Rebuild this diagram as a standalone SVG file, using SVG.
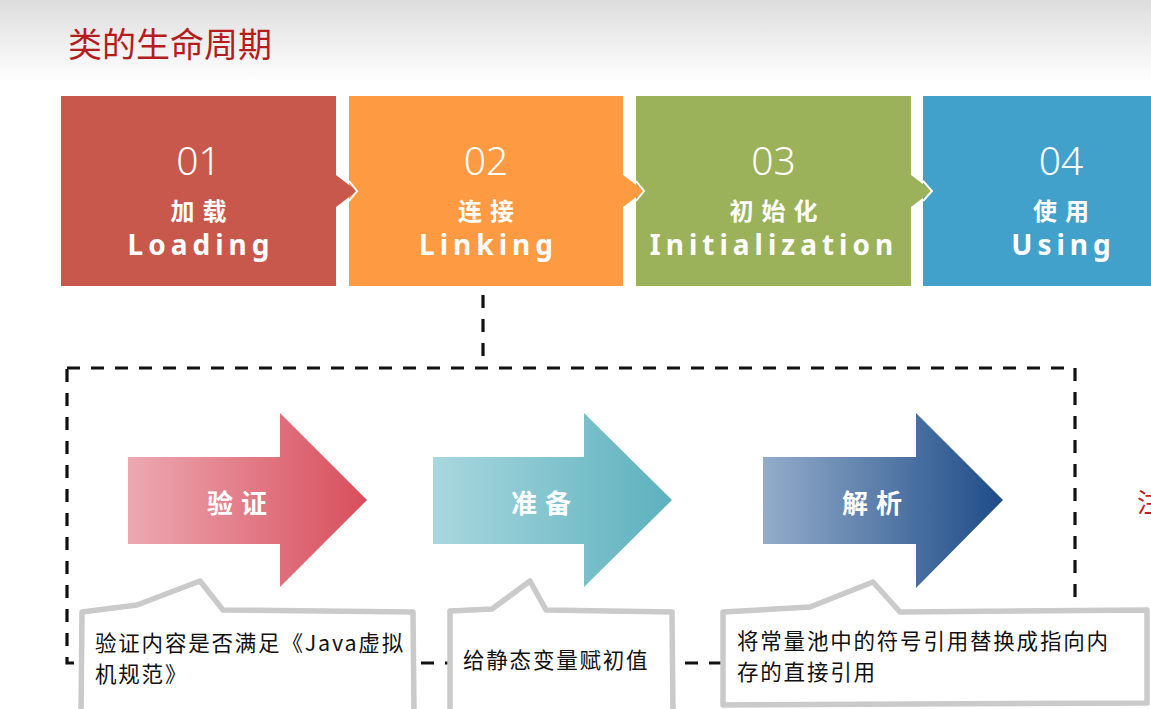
<svg xmlns="http://www.w3.org/2000/svg" width="1151" height="709" viewBox="0 0 1151 709">
  <style>
    .num { font-family: "Noto Sans", "Open Sans", "Noto Sans CJK SC", sans-serif; font-weight: 300; font-size: 39px; fill: #ffffff; text-anchor: middle; }
    .cn { font-family: "Noto Sans CJK SC", sans-serif; font-weight: 700; font-size: 24px; fill: #ffffff; text-anchor: middle; letter-spacing: 8px; }
    .en { font-family: "Noto Sans", "Open Sans", sans-serif; font-weight: 700; font-size: 28px; fill: #ffffff; text-anchor: middle; letter-spacing: 5px; }
    .alabel { font-family: "Noto Sans CJK SC", sans-serif; font-weight: 700; font-size: 26px; fill: #ffffff; text-anchor: middle; letter-spacing: 8px; }
    .note { font-family: "Noto Sans CJK SC", sans-serif; font-size: 21.5px; letter-spacing: 1.8px; fill: #111111; }
    .callout { fill: #ffffff; stroke: #CACACA; stroke-width: 5.5; stroke-linejoin: round; }
    .dash { fill: none; stroke: #111111; stroke-width: 3.2; stroke-dasharray: 13 11; }
    .notchline { fill: none; stroke: #ffffff; stroke-width: 2; }
  </style>
  <defs>
    <linearGradient id="hdr" x1="0" y1="0" x2="0" y2="1">
      <stop offset="0" stop-color="#DDDDDD"/>
      <stop offset="1" stop-color="#FFFFFF"/>
    </linearGradient>
    <linearGradient id="g1" x1="0" y1="0" x2="1" y2="0">
      <stop offset="0" stop-color="#ECA9B2"/>
      <stop offset="1" stop-color="#D84E5C"/>
    </linearGradient>
    <linearGradient id="g2" x1="0" y1="0" x2="1" y2="0">
      <stop offset="0" stop-color="#A9D7DF"/>
      <stop offset="1" stop-color="#5CB1BD"/>
    </linearGradient>
    <linearGradient id="g3" x1="0" y1="0" x2="1" y2="0">
      <stop offset="0" stop-color="#93ACCA"/>
      <stop offset="1" stop-color="#1E4C88"/>
    </linearGradient>
  </defs>

  <rect x="0" y="0" width="1151" height="709" fill="#ffffff"/>
  <rect x="0" y="0" width="1151" height="82" fill="url(#hdr)"/>

  <text x="68" y="57" font-family="Noto Sans CJK SC, sans-serif" font-size="34" fill="#B51C1C">类的生命周期</text>

  <g id="stage-loading">
    <rect x="61" y="96" width="275" height="190" fill="#C8584B"/>
    <text class="num" x="198.5" y="175">01</text>
    <text class="cn" x="202.5" y="220">加载</text>
    <text class="en" x="201" y="255">Loading</text>
  </g>
  <g id="stage-linking">
    <rect x="349" y="96" width="274" height="190" fill="#FE9A42"/>
    <text class="num" x="486" y="175">02</text>
    <text class="cn" x="490" y="220">连接</text>
    <text class="en" x="488.5" y="255">Linking</text>
  </g>
  <g id="stage-init">
    <rect x="636" y="96" width="275" height="190" fill="#9BB25A"/>
    <text class="num" x="773.5" y="175">03</text>
    <text class="cn" x="777.5" y="220">初始化</text>
    <text class="en" x="774" y="255">Initialization</text>
  </g>
  <g id="stage-using">
    <rect x="923" y="96" width="275" height="190" fill="#42A1CB"/>
    <text class="num" x="1061" y="175">04</text>
    <text class="cn" x="1065" y="220">使用</text>
    <text class="en" x="1063.5" y="255">Using</text>
  </g>
  <g id="notches">
    <polygon points="336,175 357,191 336,207" fill="#C8584B"/>
    <polyline class="notchline" points="349,181 357,191 349,201"/>
    <polygon points="623,175 644,191 623,207" fill="#FE9A42"/>
    <polyline class="notchline" points="636,181 644,191 636,201"/>
    <polygon points="911,175 932,191 911,207" fill="#9BB25A"/>
    <polyline class="notchline" points="923,181 932,191 923,201"/>
  </g>

  <g id="connectors">
    <line class="dash" x1="483" y1="295" x2="483" y2="368"/>
    <rect class="dash" x="67" y="368" width="1008" height="295"/>
  </g>

  <g id="arrow-verify">
    <path d="M128,457 L280,457 L280,413 L367,500 L280,587 L280,544 L128,544 Z" fill="url(#g1)"/>
    <text class="alabel" x="241" y="513">验证</text>
  </g>
  <g id="arrow-prepare">
    <path d="M433,457 L584,457 L584,413 L672,500 L584,587 L584,544 L433,544 Z" fill="url(#g2)"/>
    <text class="alabel" x="545" y="513">准备</text>
  </g>
  <g id="arrow-resolve">
    <path d="M763,457 L916,457 L916,413 L1003,500 L916,588 L916,544 L763,544 Z" fill="url(#g3)"/>
    <text class="alabel" x="876" y="513">解析</text>
  </g>

  <g id="note-verify">
    <path class="callout" d="M82,612 L137,605 L200,581 L223,610 L413,612 L414,714 L81,714 Z"/>
    <text class="note" x="95" y="651">验证内容是否满足《Java虚拟</text>
    <text class="note" x="95" y="682">机规范》</text>
  </g>
  <g id="note-prepare">
    <path class="callout" d="M450,611 L492,609 L530,581 L546,610 L672,612 L673,714 L450,714 Z"/>
    <text class="note" x="463" y="668">给静态变量赋初值</text>
  </g>
  <g id="note-resolve">
    <path class="callout" d="M723,612 L810,607 L873,582 L900,612 L1147,610 L1147,703 L723,705 Z"/>
    <text class="note" x="737" y="649">将常量池中的符号引用替换成指向内</text>
    <text class="note" x="737" y="680">存的直接引用</text>
  </g>

  <text x="1137" y="512" font-family="Noto Sans CJK SC, sans-serif" font-size="26" fill="#C0201C">注</text>
</svg>
